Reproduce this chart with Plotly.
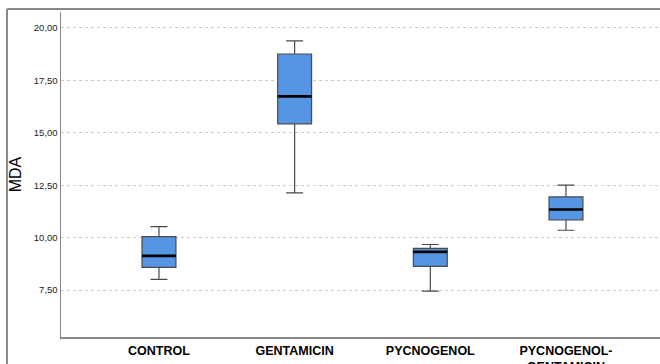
import plotly.graph_objects as go

categories = ["CONTROL", "GENTAMICIN", "PYCNOGENOL", "PYCNOGENOL-<br>GENTAMICIN"]
lower_whisker = [8.01, 12.13, 7.45, 10.35]
q1_vals = [8.58, 15.43, 8.63, 10.84]
median_vals = [9.13, 16.74, 9.32, 11.34]
q3_vals = [10.05, 18.76, 9.49, 11.94]
upper_whisker = [10.52, 19.39, 9.67, 12.50]
y_ticks = [7.5, 10.0, 12.5, 15.0, 17.5, 20.0]

fig = go.Figure()
fig.add_trace(go.Box(
    x=categories, q1=q1_vals, median=median_vals, q3=q3_vals,
    lowerfence=lower_whisker, upperfence=upper_whisker,
    width=0.25, whiskerwidth=0.5,
    fillcolor="#5694E4", line=dict(color="#4a4a4a", width=1.2),
    boxpoints=False, hoverinfo="skip", showlegend=False,
))
# thicker black median lines
fig.add_trace(go.Box(
    x=categories, q1=median_vals, median=median_vals, q3=median_vals,
    lowerfence=median_vals, upperfence=median_vals,
    width=0.25, whiskerwidth=0,
    fillcolor="rgba(0,0,0,0)", line=dict(color="#000000", width=2.6),
    boxpoints=False, hoverinfo="skip", showlegend=False,
))

fig.update_layout(
    width=660, height=364,
    margin=dict(l=61, r=0, t=12, b=27),
    paper_bgcolor="white", plot_bgcolor="white",
    separators=",.",
    font=dict(family="Liberation Sans, Arial", color="#000"),
    xaxis=dict(
        type="category", range=[-0.722, 3.693], automargin=False,
        showgrid=False, zeroline=False,
        showline=True, linecolor="#888", linewidth=1.5,
        ticks="outside", ticklen=1, tickcolor="rgba(0,0,0,0)",
        tickfont=dict(size=12.5, family="Liberation Sans, Arial", color="#000"),
    ),
    yaxis=dict(
        range=[5.258, 20.763], tickvals=y_ticks, tickformat=".2f",
        automargin=False,
        showgrid=True, gridcolor="#cccccc", gridwidth=1, griddash="dot",
        zeroline=False, showline=True, linecolor="#888", linewidth=1.5,
        ticks="", tickfont=dict(size=9.5, color="#222"),
        title=dict(text="MDA", font=dict(size=16), standoff=8),
    ),
    shapes=[
        dict(type="line", xref="paper", yref="paper", x0=-0.0902, x1=-0.0902,
             y0=-0.2, y1=1.009, line=dict(color="#888", width=2)),
        dict(type="line", xref="paper", yref="paper", x0=-0.0902, x1=1.1,
             y0=1.009, y1=1.009, line=dict(color="#888", width=2)),
    ],
)
fig.update_xaxes(tickprefix="<b>", ticksuffix="</b>")
fig.write_html(
    "out.html",
    config={"displayModeBar": False, "staticPlot": True},
    post_script="document.body.style.margin='0';document.body.style.overflow='hidden';",
)
